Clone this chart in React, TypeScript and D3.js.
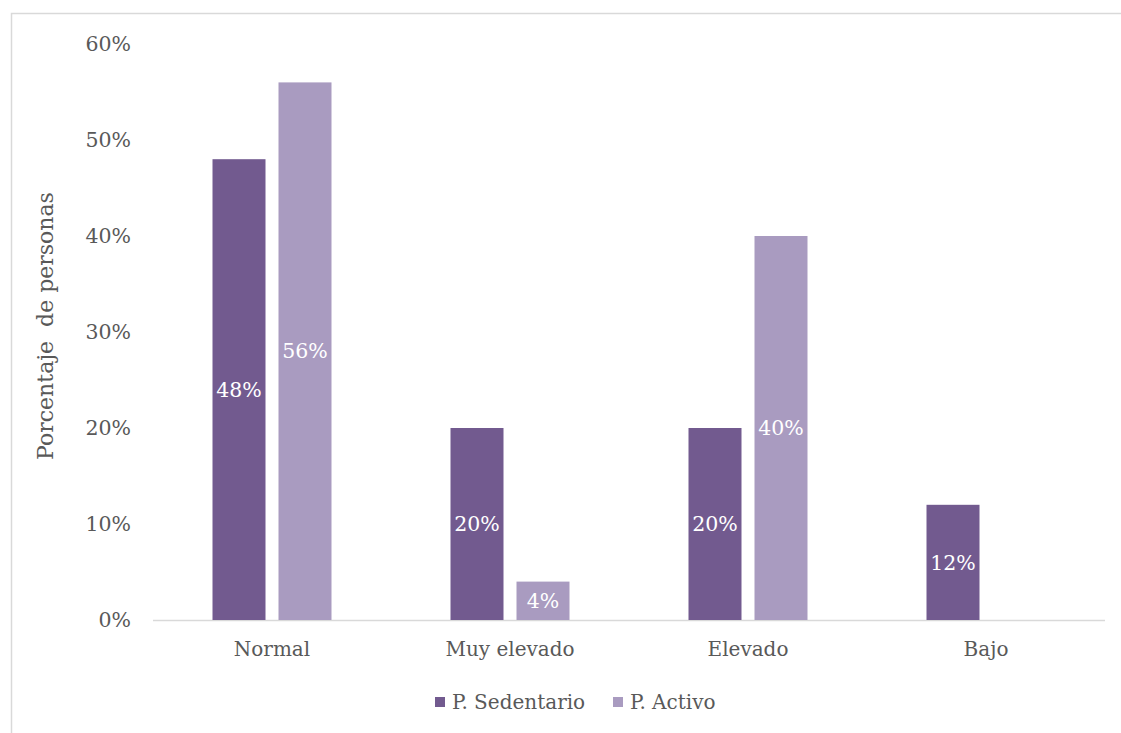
import React from "react";
import * as d3 from "d3";

const categories = ["Normal", "Muy elevado", "Elevado", "Bajo"];
const seriesNames = ["P. Sedentario", "P. Activo"];
const sedentario = [0.48, 0.2, 0.2, 0.12];
const activo = [0.56, 0.04, 0.4, 0];
const yTicks = [0, 0.1, 0.2, 0.3, 0.4, 0.5, 0.6];
const colors = ["#725A8F", "#A99BC0"];

const W = 1121;
const H = 733;
const FONT = "'DejaVu Serif', serif";

export default function App() {
  const x = d3.scaleBand<string>().domain(categories).range([153, 1105]);
  const y = d3.scaleLinear().domain([0, 0.6]).range([620, 44]);
  const barW = 53;
  const gap = 13;
  const fmt = d3.format(".0%");
  const series = [sedentario, activo];

  return (
    <svg width={W} height={H} style={{ position: "absolute", left: 0, top: 0 }}>
      <rect x={0} y={0} width={W} height={H} fill="#fff" />
      <rect x={11.5} y={13.5} width={1120} height={740} fill="none" stroke="#d9d9d9" strokeWidth={1.5} />
      {yTicks.map((t) => (
        <text key={t} x={131} y={y(t)} dy="0.35em" textAnchor="end" fontFamily={FONT} fontSize={20.5} fill="#595959">
          {fmt(t)}
        </text>
      ))}
      <line x1={153} x2={1105} y1={620.5} y2={620.5} stroke="#d9d9d9" strokeWidth={1.5} />
      {categories.map((c, i) => {
        const cx = (x(c) as number) + x.bandwidth() / 2;
        return (
          <g key={c}>
            {series.map((s, j) => {
              const v = s[i];
              if (!v) return null;
              const bx = j === 0 ? cx - gap / 2 - barW : cx + gap / 2;
              return (
                <g key={j}>
                  <rect x={bx} y={y(v)} width={barW} height={y(0) - y(v)} fill={colors[j]} />
                  <text
                    x={bx + barW / 2}
                    y={(y(v) + y(0)) / 2}
                    dy="0.35em"
                    textAnchor="middle"
                    fontFamily={FONT}
                    fontSize={20.5}
                    fill="#fff"
                  >
                    {fmt(v)}
                  </text>
                </g>
              );
            })}
            <text x={cx} y={649} dy="0.35em" textAnchor="middle" fontFamily={FONT} fontSize={20} fill="#595959">
              {c}
            </text>
          </g>
        );
      })}
      <text
        transform="translate(45,326) rotate(-90)"
        textAnchor="middle"
        dy="0.35em"
        fontFamily={FONT}
        fontSize={22}
        fill="#595959"
        style={{ whiteSpace: "pre" }}
      >
        {"Porcentaje  de personas"}
      </text>
      <g>
        <rect x={435} y={697} width={10} height={10} fill={colors[0]} />
        <text x={452} y={702} dy="0.35em" fontFamily={FONT} fontSize={20} fill="#595959">
          {seriesNames[0]}
        </text>
        <rect x={613} y={697} width={10} height={10} fill={colors[1]} />
        <text x={630} y={702} dy="0.35em" fontFamily={FONT} fontSize={20} fill="#595959">
          {seriesNames[1]}
        </text>
      </g>
    </svg>
  );
}
